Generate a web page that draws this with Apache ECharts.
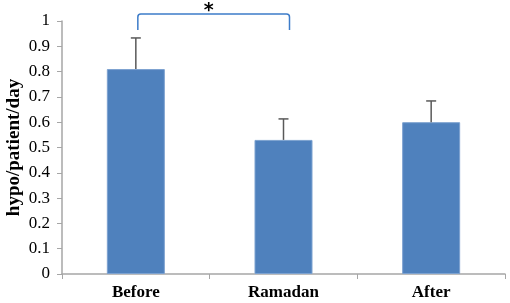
<!DOCTYPE html>
<html><head><meta charset="utf-8">
<script src="https://cdn.jsdelivr.net/npm/echarts@6/dist/echarts.min.js"></script>
<style>html,body{margin:0;padding:0;background:#fff}#c{width:510px;height:303px}</style>
</head><body><div id="c"></div>
<script>
const categories = ['Before', 'Ramadan', 'After'];
const means = [0.81, 0.53, 0.60];
const errUpper = [0.933, 0.613, 0.684];
const yTicks = ['0','0.1','0.2','0.3','0.4','0.5','0.6','0.7','0.8','0.9','1'];
// significance bracket between categories 0 and 1
const sigPair = [0, 1];
const sigLevel = 1.028, sigLegEnd = 0.964, sigLabel = '*';

const chart = echarts.init(document.getElementById('c'), null, {renderer: 'canvas'});
const font = '"Liberation Serif", "Times New Roman", Times, serif';
chart.setOption({
  animation: false,
  grid: {left: 62, right: 5, top: 21, bottom: 29, outerBoundsMode: 'none', containLabel: false},
  xAxis: {
    type: 'category', data: categories,
    axisLine: {lineStyle: {color: '#A6A6A6', width: 1.5}},
    axisTick: {show: true, length: 5, lineStyle: {color: '#A6A6A6'}},
    axisLabel: {fontFamily: font, fontWeight: 'bold', fontSize: 17, color: '#000', margin: 10}
  },
  yAxis: {
    type: 'value', min: 0, max: 1, interval: 0.1,
    name: 'hypo/patient/day', nameLocation: 'middle', nameGap: 38, nameMoveOverlap: false,
    nameTextStyle: {fontFamily: font, fontWeight: 'bold', fontSize: 19, color: '#000'},
    axisLine: {show: true, lineStyle: {color: '#A6A6A6', width: 1.5}},
    axisTick: {show: true, length: 5, lineStyle: {color: '#A6A6A6'}},
    splitLine: {show: false},
    axisLabel: {fontFamily: font, fontSize: 17, color: '#000', margin: 12,
      formatter: (v) => yTicks[Math.round(v * 10)]}
  },
  series: [
    {
      type: 'bar', data: means, barWidth: 58,
      itemStyle: {color: '#4F81BD', borderColor: '#7DA2D0', borderWidth: 1}
    },
    {
      type: 'custom', z: 5,
      data: means.map((m, i) => [i, m, errUpper[i]]),
      renderItem: (params, api) => {
        const top = api.coord([api.value(0), api.value(2)]);
        const base = api.coord([api.value(0), api.value(1)]);
        return {type: 'group', children: [
          {type: 'line', shape: {x1: base[0], y1: base[1], x2: top[0], y2: top[1]}, style: {stroke: '#595959', lineWidth: 1.5}},
          {type: 'line', shape: {x1: top[0] - 5, y1: top[1], x2: top[0] + 5, y2: top[1]}, style: {stroke: '#595959', lineWidth: 1.5}}
        ]};
      }
    },
    {
      type: 'custom', z: 6, clip: false,
      data: [[sigPair[0], sigPair[1], sigLevel, sigLegEnd]],
      renderItem: (params, api) => {
        const a = api.coord([api.value(0), api.value(2)]);
        const b = api.coord([api.value(1), api.value(2)]);
        const aEnd = api.coord([api.value(0), api.value(3)]);
        const x1 = a[0] + 2, x2 = b[0] + 6, y = a[1], y2 = aEnd[1], r = 3;
        return {type: 'group', children: [
          {type: 'path', shape: {pathData:
            `M${x1} ${y2} L${x1} ${y + r} Q${x1} ${y} ${x1 + r} ${y} L${x2 - r} ${y} Q${x2} ${y} ${x2} ${y + r} L${x2} ${y2}`},
            style: {stroke: '#3D7CC9', lineWidth: 1.5, fill: null}},
          {type: 'text', x: (x1 + x2) / 2 - 5, y: y - 3, style: {text: sigLabel, align: 'center', verticalAlign: 'middle',
            fontFamily: 'DejaVu Sans', fontWeight: 'bold', fontSize: 19, fill: '#000'}}
        ]};
      }
    }
  ]
});
</script></body></html>
